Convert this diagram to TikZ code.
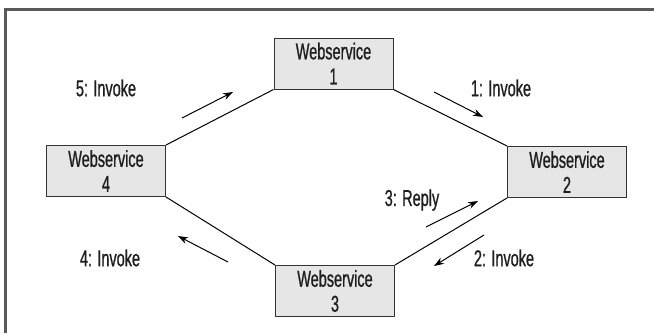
\documentclass[tikz,border=0pt]{standalone}
\usepackage{fontspec}
\setmainfont{Liberation Sans}[FakeStretch=0.63, FakeBold=0.8]
\usetikzlibrary{arrows.meta}
\definecolor{boxfill}{HTML}{E6E6E6}
\definecolor{boxline}{HTML}{333333}
\definecolor{framegray}{HTML}{5A5A5A}
\definecolor{inkcol}{HTML}{1E1E1E}
\tikzset{
  service/.style={draw=boxline, line width=1pt, fill=boxfill, rectangle,
    minimum width=119pt, minimum height=51pt, inner sep=0pt, align=center,
    text=inkcol, font=\fontsize{23}{25}\selectfont},
  link/.style={draw=black, line width=1pt},
  msg/.style={draw=black, line width=1pt, -{Stealth[length=10pt,width=7pt]}},
  msglabel/.style={text=inkcol, font=\fontsize{23}{25}\selectfont, inner sep=0pt}
}
\begin{document}
\begin{tikzpicture}[x=1pt, y=-1pt]
  \useasboundingbox (0,0) rectangle (654,333);
  % open frame: top and left edges only
  \draw[framegray, line width=2.5pt] (654,9.5) -- (5.5,9.5) -- (5.5,333);

  % services
  \node[service] (ws1) at (333.5,63.5) {Webservice\\1};
  \node[service] (ws2) at (567,172) {Webservice\\2};
  \node[service] (ws3) at (335,291) {Webservice\\3};
  \node[service] (ws4) at (106,171) {Webservice\\4};

  % ring of links between corners
  \draw[link] (ws1.south east) -- (ws2.north west);
  \draw[link] (ws2.south west) -- (ws3.north east);
  \draw[link] (ws3.north west) -- (ws4.south east);
  \draw[link] (ws4.north east) -- (ws1.south west);

  % message arrows
  \coordinate (a1s) at (434,92);   \coordinate (a1e) at (483,117);
  \coordinate (a2s) at (484,235);  \coordinate (a2e) at (434,266);
  \coordinate (a3s) at (426,227);  \coordinate (a3e) at (478,201);
  \coordinate (a4s) at (228,262);  \coordinate (a4e) at (178,236);
  \coordinate (a5s) at (182,118);  \coordinate (a5e) at (233,92);
  \draw[msg] (a1s) -- (a1e);
  \draw[msg] (a2s) -- (a2e);
  \draw[msg] (a3s) -- (a3e);
  \draw[msg] (a4s) -- (a4e);
  \draw[msg] (a5s) -- (a5e);

  % message labels
  \node[msglabel] (l1) at (501,88) {1: Invoke};
  \node[msglabel] (l2) at (504,258) {2: Invoke};
  \node[msglabel] (l3) at (412,200) {3: Reply};
  \node[msglabel] (l4) at (110,258) {4: Invoke};
  \node[msglabel] (l5) at (106,88) {5: Invoke};
\end{tikzpicture}
\end{document}
